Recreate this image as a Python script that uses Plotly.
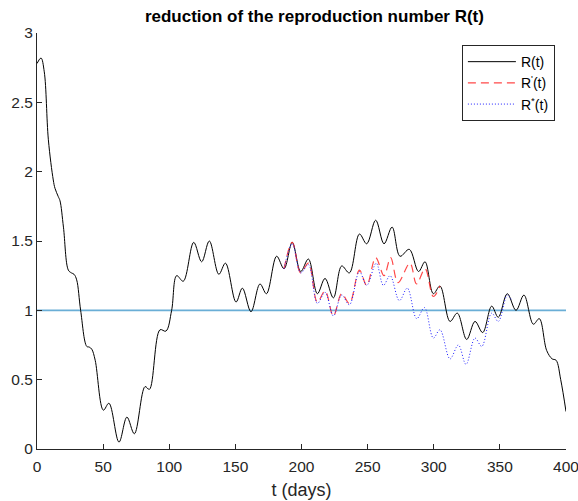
import plotly.graph_objects as go

# Main curve R(t): sampled at visible extrema / shape points
t_main = [0, 3, 5.5, 8.6, 12.3, 13.6, 16.1, 17.4, 20, 23.7, 26, 28, 30, 33, 37.6, 39.5,
          41.4, 44, 50.2, 54.4, 62, 68, 73.6, 81.7, 85, 93, 97.5, 101.8, 105.6, 110.6,
          118.5, 124.5, 130.3, 137.5, 142.5, 150.5, 155.3, 161.8, 168.6, 173.5, 181.2,
          186.8, 193, 199.4, 205.2, 212, 217.8, 224.1, 230.4, 236.2, 243.8, 249.3, 256.1,
          262.4, 268.5, 274.5, 281.5, 288.5, 293.4, 299.7, 304.7, 312.3, 317.8, 324.9,
          331.2, 337, 343.8, 348.8, 355.6, 362.2, 368.2, 375.3, 379.8, 385.4, 389.5,
          392.5, 396, 400]
R_main = [2.78, 2.82, 2.72, 2.23, 1.94, 1.88, 1.82, 1.79, 1.60, 1.29, 1.27, 1.26, 1.22,
          1.00, 0.74, 0.735, 0.72, 0.64, 0.28, 0.33, 0.05, 0.23, 0.11, 0.45, 0.43, 0.86,
          0.85, 1.00, 1.25, 1.21, 1.49, 1.35, 1.50, 1.26, 1.34, 1.06, 1.16, 0.99, 1.19,
          1.12, 1.39, 1.30, 1.49, 1.28, 1.37, 1.12, 1.23, 1.09, 1.32, 1.27, 1.55, 1.48,
          1.65, 1.48, 1.60, 1.39, 1.44, 1.28, 1.35, 1.12, 1.175, 0.92, 0.98, 0.79, 0.92,
          0.84, 1.03, 0.95, 1.12, 1.00, 1.11, 0.90, 0.94, 0.71, 0.65, 0.64, 0.50, 0.27]

# R'(t)
t_prime = [186.8, 193, 199.4, 205.2, 212, 217.8, 224.1, 230.4, 236.2, 243.8, 249.3,
           256.1, 262.4, 267.4, 273, 282, 287, 293.4, 299.7, 304.7]
R_prime = [1.30, 1.49, 1.27, 1.34, 1.06, 1.14, 0.96, 1.12, 1.05, 1.29, 1.18,
           1.38, 1.25, 1.38, 1.20, 1.34, 1.19, 1.30, 1.10, 1.175]

# R*(t)
t_star = [186.8, 193, 199.4, 205.2, 212, 217.8, 224.1, 230.4, 236.2, 243.8, 249.3,
          256.5, 261.9, 267, 274, 280, 287.1, 293, 299.7, 304.7, 312.3, 318.6, 324.4,
          331.2, 336.3, 343.8, 348.8, 355.6, 358.5]
R_star = [1.30, 1.48, 1.27, 1.33, 1.05, 1.13, 0.96, 1.11, 1.04, 1.28, 1.18,
          1.34, 1.18, 1.25, 1.07, 1.16, 0.94, 1.02, 0.80, 0.86, 0.65, 0.75, 0.61,
          0.80, 0.74, 0.98, 0.92, 1.11, 1.08]

# threshold line
t_thr = [0, 400]
R_thr = [1, 1]

x_ticks = [0, 50, 100, 150, 200, 250, 300, 350, 400]
y_ticks = [0, 0.5, 1, 1.5, 2, 2.5, 3]
y_labels = ["0", "0.5", "1", "1.5", "2", "2.5", "3"]

FONT = "Liberation Sans, Arial, sans-serif"
AX = "#262626"

fig = go.Figure()
fig.add_trace(go.Scatter(x=t_thr, y=R_thr, mode="lines", showlegend=False,
                         line=dict(color="#6aaed6", width=1.6)))
fig.add_trace(go.Scatter(x=t_main, y=R_main, mode="lines", name="R(t)",
                         line=dict(color="#000000", width=1, shape="spline", smoothing=1)))
fig.add_trace(go.Scatter(x=t_prime, y=R_prime, mode="lines", name="R<sup>'</sup>(t)",
                         line=dict(color="rgba(255,40,40,0.85)", width=1.2, dash="8px,5px",
                                   shape="spline", smoothing=1)))
fig.add_trace(go.Scatter(x=t_star, y=R_star, mode="lines", name="R<sup>*</sup>(t)",
                         line=dict(color="#2020ff", width=1, dash="1px,2px",
                                   shape="spline", smoothing=1)))

fig.update_layout(
    width=578, height=501,
    margin=dict(l=37, r=12, t=33, b=52, autoexpand=False),
    paper_bgcolor="white", plot_bgcolor="white",
    font=dict(family=FONT, size=15, color=AX),
    title=dict(text="<b>reduction of the reproduction number R(t)</b>",
               x=0.544, xanchor="center", y=0.968, yanchor="middle",
               font=dict(family=FONT, size=17, color="#000000")),
    xaxis=dict(range=[0, 400], tickvals=x_ticks, ticks="inside", ticklen=5,
               tickcolor=AX, showline=True, linecolor=AX, linewidth=1,
               showgrid=False, zeroline=False, mirror=False, automargin=False,
               ticklabeloverflow="allow", ticklabelstandoff=3,
               title=dict(text="t (days)", font=dict(size=18), standoff=9),
               tickfont=dict(size=15.5)),
    yaxis=dict(range=[0, 3], tickvals=y_ticks, ticktext=y_labels, ticks="inside",
               ticklen=5, tickcolor=AX, showline=True, linecolor=AX, linewidth=1,
               showgrid=False, zeroline=False, mirror=False, automargin=False,
               tickfont=dict(size=15.5)),
    legend=dict(x=0.979, xanchor="right", y=0.971, yanchor="top",
                bgcolor="white", bordercolor=AX, borderwidth=1, itemwidth=48,
                font=dict(size=14, color="#000000"), tracegroupgap=0),
)

fig.write_html("out.html")
